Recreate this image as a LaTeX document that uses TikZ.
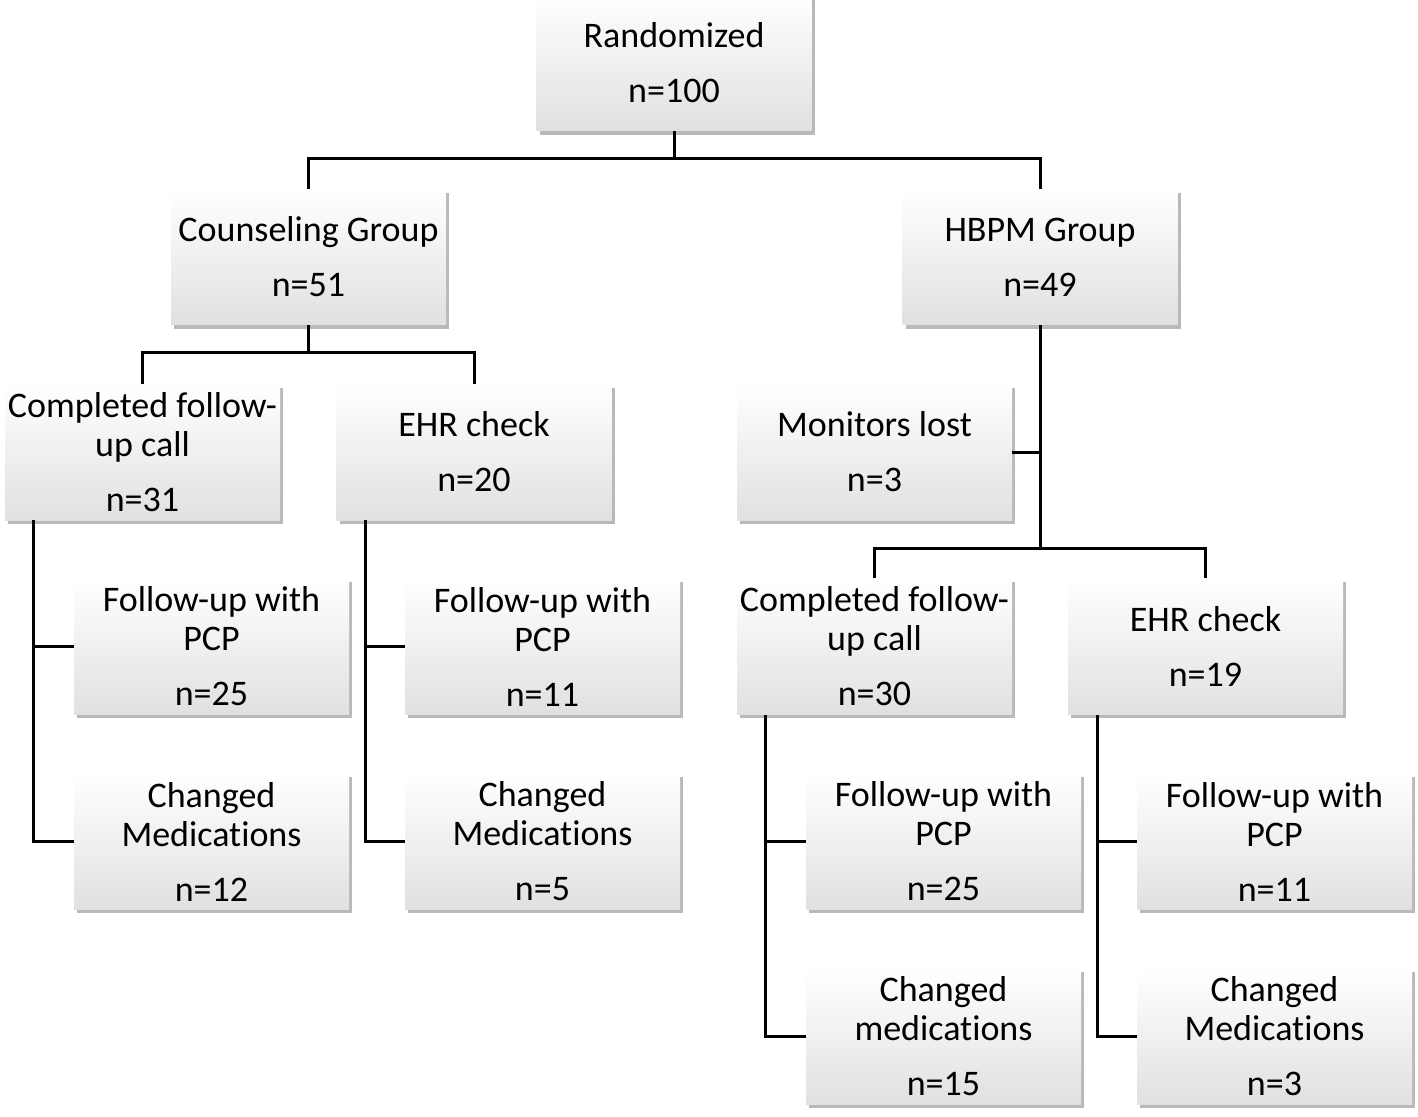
\documentclass[tikz,border=0pt]{standalone}
\usepackage{fontspec}
\setmainfont[Ligatures={NoCommon}]{Carlito}
\usetikzlibrary{shadows}
\begin{document}
\begin{tikzpicture}[x=0.5pt,y=-0.5pt,
  box/.style={rectangle, draw=none, minimum width=137.5pt, minimum height=68pt,
    top color=white, middle color=white, bottom color=black!12,
    align=center, text=black, inner sep=0pt,
    font={\fontsize{18}{19.5}\selectfont},
    drop shadow={shadow xshift=1.6pt, shadow yshift=-1.8pt, fill=black!55, opacity=0.5}},
  conn/.style={line width=1.5pt, black}]
\useasboundingbox (0,0) rectangle (1418,1117);
\node[box] (rand) at (674,63) {Randomized\\[8pt]n=100};
\node[box] (couns) at (308.5,257) {Counseling Group\\[8pt]n=51};
\node[box] (hbpm) at (1040,257) {HBPM Group\\[8pt]n=49};
\node[box] (cfl) at (142.5,452) {Completed follow-\\up call\\[8pt]n=31};
\node[box] (ehrl) at (474,452) {EHR check\\[8pt]n=20};
\node[box] (fpl1) at (211.5,646.5) {Follow-up with\\PCP\\[8pt]n=25};
\node[box] (cml1) at (211.5,841.5) {Changed\\Medications\\[8pt]n=12};
\node[box] (fpl2) at (542.5,646.5) {Follow-up with\\PCP\\[8pt]n=11};
\node[box] (cml2) at (542.5,841.5) {Changed\\Medications\\[8pt]n=5};
\node[box] (mon) at (874.5,452) {Monitors lost\\[8pt]n=3};
\node[box] (cfr) at (874.5,646.5) {Completed follow-\\up call\\[8pt]n=30};
\node[box] (ehrr) at (1205.5,646.5) {EHR check\\[8pt]n=19};
\node[box] (fpr1) at (943.5,841.5) {Follow-up with\\PCP\\[8pt]n=25};
\node[box] (cmr1) at (943.5,1036.5) {Changed\\medications\\[8pt]n=15};
\node[box] (fpr2) at (1274.5,841.5) {Follow-up with\\PCP\\[8pt]n=11};
\node[box] (cmr2) at (1274.5,1036.5) {Changed\\Medications\\[8pt]n=3};
\coordinate (j1) at (674,159);
\coordinate (j2) at (308.5,353);
\coordinate (j3) at (1040,548);
\coordinate (s1) at (33,520);
\coordinate (s2) at (365,520);
\coordinate (s3) at (765,715);
\coordinate (s4) at (1097,715);
\draw[conn] (rand.south) -- (j1);
\draw[conn] (couns.north) |- (j1) -| (hbpm.north);
\draw[conn] (couns.south) -- (j2);
\draw[conn] (cfl.north) |- (j2) -| (ehrl.north);
\draw[conn] (s1) |- (cml1.west);
\draw[conn] (s1 |- fpl1.west) -- (fpl1.west);
\draw[conn] (s2) |- (cml2.west);
\draw[conn] (s2 |- fpl2.west) -- (fpl2.west);
\draw[conn] (hbpm.south) -- (j3);
\draw[conn] (mon.east) -- (mon.east -| j3);
\draw[conn] (cfr.north) |- (j3) -| (ehrr.north);
\draw[conn] (s3) |- (cmr1.west);
\draw[conn] (s3 |- fpr1.west) -- (fpr1.west);
\draw[conn] (s4) |- (cmr2.west);
\draw[conn] (s4 |- fpr2.west) -- (fpr2.west);
\end{tikzpicture}
\end{document}
